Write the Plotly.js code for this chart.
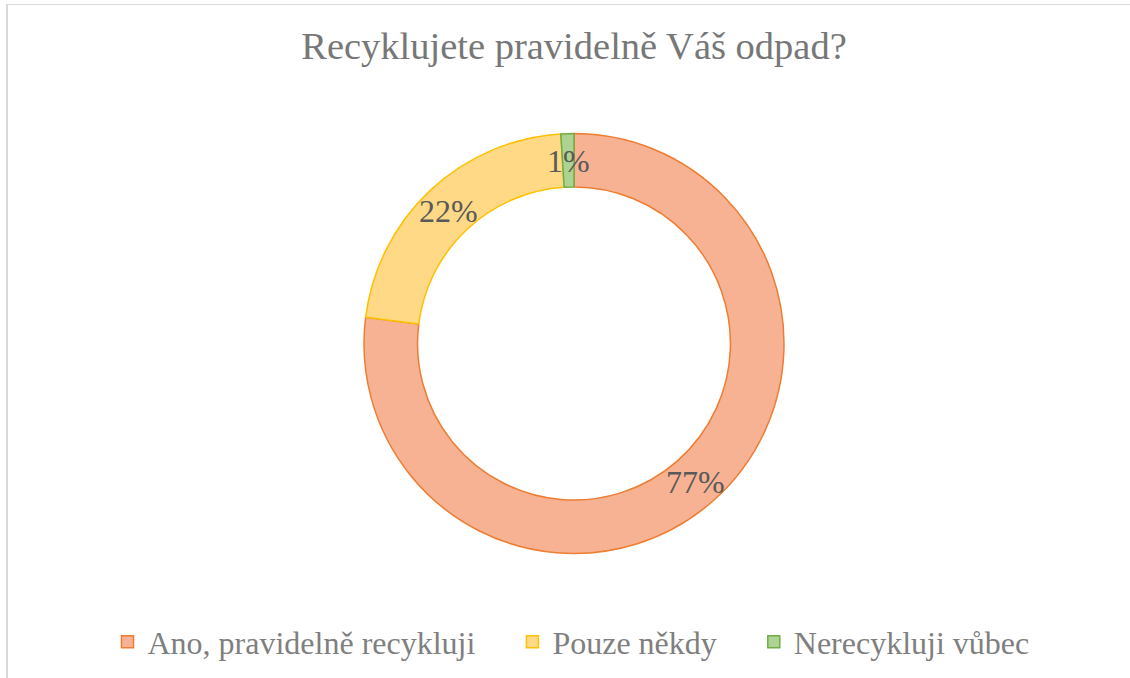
<!DOCTYPE html>
<html>
<head>
<meta charset="utf-8">
<script src="https://cdn.plot.ly/plotly-3.0.1.min.js"></script>
<style>
html,body{margin:0;padding:0;background:#fff;}
#chart{position:absolute;left:0;top:0;width:1130px;height:678px;}
#frame{position:absolute;left:6px;top:4px;width:1130px;height:700px;border-left:2px solid #d9d9d9;border-top:1px solid #dcdcdc;pointer-events:none;}
</style>
</head>
<body>
<div id="chart"></div>
<div id="frame"></div>
<script>
const categories = ["Ano, pravidelně recykluji", "Pouze někdy", "Nerecykluji vůbec"];
const values = [77, 22, 1];
const fillColors = ["#F7B193", "#FFD985", "#ADD392"];
const lineColors = ["#ED7D31", "#FFC000", "#70AD47"];

const FONT = "Liberation Serif";
const W = 1130, H = 678;
const holeRatio = 0.745;
const dom = {x: [364 / W, 784 / W], y: [1 - 553.5 / H, 1 - 133.5 / H]};

// legend entries get a little trailing space so the items sit as far apart as in the reference
const legendLabels = categories.map((c, i) => i < categories.length - 1 ? c + "\u00a0\u00a0\u00a0\u00a0" : c);

const total = values.reduce((a, b) => a + b, 0);
const annotations = [];
let cum = 0;
const cx = (dom.x[0] + dom.x[1]) / 2, cy = (dom.y[0] + dom.y[1]) / 2;
const Rpx = Math.min((dom.x[1] - dom.x[0]) * W, (dom.y[1] - dom.y[0]) * H) / 2;
const rMid = Rpx * (1 + holeRatio) / 2;
values.forEach((v, i) => {
  const fmid = (cum + v / 2) / total;
  cum += v;
  const th = 2 * Math.PI * fmid;
  annotations.push({
    xref: "paper", yref: "paper",
    x: cx + rMid * Math.sin(th) / W,
    y: cy + rMid * Math.cos(th) / H,
    xanchor: "center", yanchor: "middle",
    text: Math.round(v / total * 100) + "%",
    showarrow: false,
    yshift: -1,
    font: {family: FONT, size: 32, color: "#595959"}
  });
});

const data = [{
  type: "pie",
  labels: legendLabels,
  values: values,
  hole: holeRatio,
  sort: false,
  direction: "clockwise",
  rotation: 0,
  textinfo: "none",
  domain: dom,
  marker: {colors: fillColors, line: {color: lineColors, width: 1.5}},
  hoverinfo: "label+percent"
}];

const layout = {
  width: W, height: H,
  margin: {l: 0, r: 0, t: 0, b: 0},
  paper_bgcolor: "#ffffff",
  font: {family: FONT},
  title: {
    text: "Recyklujete pravidelně Váš odpad?",
    x: 574 / W, xanchor: "center",
    y: 1 - 46 / H, yanchor: "middle",
    font: {family: FONT, size: 38.5, color: "#777777"}
  },
  showlegend: true,
  legend: {
    orientation: "h",
    x: 571 / W, xanchor: "center",
    y: 1 - 642 / H, yanchor: "middle",
    font: {family: FONT, size: 32, color: "#7f7f7f"}
  },
  annotations: annotations
};

Plotly.newPlot("chart", data, layout, {displayModeBar: false, staticPlot: true});
</script>
</body>
</html>
